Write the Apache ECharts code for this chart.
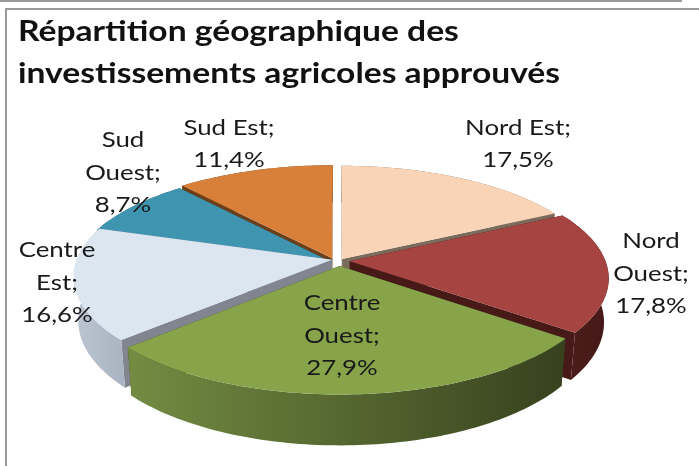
<!DOCTYPE html>
<html>
<head>
<meta charset="utf-8">
<style>html,body{margin:0;padding:0;background:#fff}#main{width:699px;height:466px}</style>
<script src="https://cdn.jsdelivr.net/npm/echarts@6/dist/echarts.min.js"></script>
</head>
<body>
<div id="main"></div>
<script>
// clockwise from 12 o'clock, same order as the original sheet
var regions = ["Nord Est", "Nord Ouest", "Centre Ouest", "Centre Est", "Sud Ouest", "Sud Est"];
var shares = [17.5, 17.8, 27.9, 16.6, 8.7, 11.4];
var titleLines = ["Répartition géographique des", "investissements agricoles approuvés"];

var topColors = ["#fad4b6", "#a54441", "#87a44b", "#dce6f1", "#3f95b0", "#d87f39"];
var wallColors = ["#7b6b5d", "#471a18", "#38421e", "#80858f", "#1c4653", "#6b3f1a"];
var rimColors = [
  ["#7b6b5d", "#7b6b5d"],
  ["#4f1e1b", "#431917"],
  ["#738c42", "#37411e"],
  ["#bcc5d2", "#aab3c1"],
  ["#2a6478", "#2a6478"],
  ["#6b3f1a", "#6b3f1a"]
];
// label box centres, they were placed by hand in the original
var labelSpots = [[518, 144], [651, 274], [342, 336], [57, 283], [123, 173], [229, 144]];
var labelLines = [["Nord Est;"], ["Nord", "Ouest;"], ["Centre", "Ouest;"], ["Centre", "Est;"], ["Sud", "Ouest;"], ["Sud Est;"]];
// each slice was pulled out by hand too, in disc units
var pulls = [[0.02, -0.028], [0.05, -0.008], [0.01, 0.036], [-0.02, -0.02], [-0.028, -0.008], [-0.019, -0.035]];

// tilted disc with a bit of perspective, the bottom face is a little smaller
var cx = 337, cy = 262, rx = 256, ry = 108, persp = 0.15, depth = 43, shrink = 0.0004;
var total = shares.reduce(function (a, b) { return a + b; }, 0);

function project(px, py, h) {
  var s = 1 / (1 - persp * py);
  return [cx + rx * px * s * (1 - h * shrink), cy + ry * py * s + h * s];
}

var slices = [];
var acc = 0;
shares.forEach(function (v, i) {
  var a0 = acc / total * Math.PI * 2;
  acc += v;
  var a1 = acc / total * Math.PI * 2;
  slices.push({ idx: i, a0: a0, a1: a1, mid: (a0 + a1) / 2, ox: pulls[i][0], oy: pulls[i][1] });
});
// back slices first so the front ones paint over them
var drawOrder = slices.slice().sort(function (a, b) {
  return -Math.cos(a.mid) - -Math.cos(b.mid);
});

function rimPoints(sl, h) {
  var pts = [];
  var n = Math.ceil((sl.a1 - sl.a0) / 0.02);
  for (var k = 0; k <= n; k++) {
    var a = sl.a0 + (sl.a1 - sl.a0) * k / n;
    pts.push(project(sl.ox + Math.sin(a), sl.oy - Math.cos(a), h));
  }
  return pts;
}

function renderSlice(params, api) {
  var sl = drawOrder[api.value(0)];
  var apexTop = project(sl.ox, sl.oy, 0), apexBot = project(sl.ox, sl.oy, depth);
  var top = rimPoints(sl, 0), bot = rimPoints(sl, depth);
  var last = top.length - 1;
  var wall = wallColors[sl.idx], rim = rimColors[sl.idx];
  return {
    type: "group",
    children: [
      { type: "polygon", shape: { points: [apexTop, top[0], bot[0], apexBot] }, style: { fill: wall } },
      { type: "polygon", shape: { points: [apexTop, top[last], bot[last], apexBot] }, style: { fill: wall } },
      {
        type: "polygon",
        shape: { points: top.concat(bot.slice().reverse()) },
        style: {
          fill: new echarts.graphic.LinearGradient(1, 0, 0, 0, [
            { offset: 0, color: rim[1] },
            { offset: 1, color: rim[0] }
          ])
        }
      },
      { type: "polygon", shape: { points: [apexTop].concat(top) }, style: { fill: topColors[sl.idx] } }
    ]
  };
}

// the original is a stretched screenshot, so the text is wider than it is tall
var labelFont = "Lato, 'Open Sans', sans-serif";
var labelGraphics = regions.map(function (name, i) {
  var lines = labelLines[i].concat([String(shares[i]).replace(".", ",") + "%"]);
  return {
    type: "text",
    z: 20,
    x: labelSpots[i][0],
    y: labelSpots[i][1],
    scaleX: 1.23,
    style: {
      text: lines.join("\n"),
      fill: "#1a1a1a",
      font: "21px " + labelFont,
      lineHeight: 32.5,
      align: "center",
      verticalAlign: "middle"
    }
  };
});

var frame = [
  { type: "rect", shape: { x: 0, y: 0, width: 682, height: 2 }, style: { fill: "#9a9a9a" } },
  { type: "rect", shape: { x: 5, y: 8, width: 694, height: 2 }, style: { fill: "#9a9a9a" } },
  { type: "rect", shape: { x: 5, y: 8, width: 2, height: 458 }, style: { fill: "#9a9a9a" } }
];

var titleGraphics = titleLines.map(function (t, i) {
  return {
    type: "text",
    z: 20,
    x: 18,
    y: 32 + i * 41.5,
    scaleX: 1.2,
    style: { text: t, fill: "#111", font: "bold 28px " + labelFont, verticalAlign: "middle" }
  };
});

var myChart = echarts.init(document.getElementById("main"), null, { renderer: "canvas" });
myChart.setOption({
  animation: false,
  backgroundColor: "#fff",
  graphic: { elements: frame.concat(titleGraphics, labelGraphics) },
  series: [
    {
      type: "custom",
      coordinateSystem: "none",
      silent: true,
      z: 5,
      renderItem: renderSlice,
      data: drawOrder.map(function (s, i) { return [i, shares[s.idx]]; })
    }
  ]
});
</script>
</body>
</html>
